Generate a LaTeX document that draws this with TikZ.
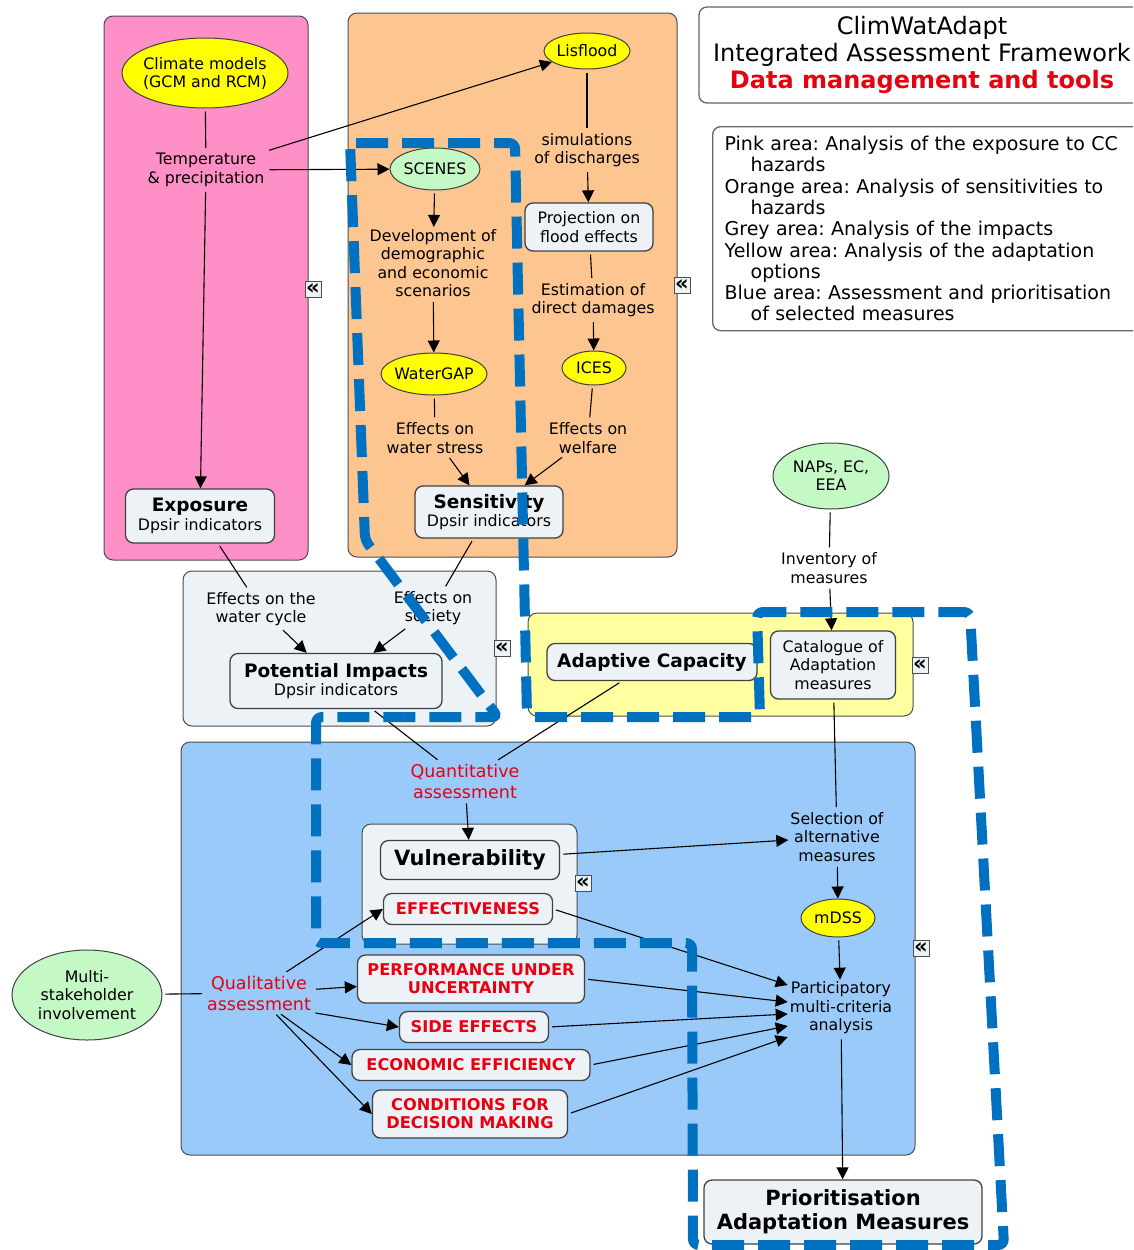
\documentclass[tikz,border=0pt]{standalone}
\usepackage{fontspec}
\setmainfont{DejaVu Sans}
\usetikzlibrary{shapes.geometric,arrows.meta}

\definecolor{pinkarea}{RGB}{255,143,199}
\definecolor{orangearea}{RGB}{253,198,145}
\definecolor{greyarea}{RGB}{236,242,245}
\definecolor{yellowarea}{RGB}{255,255,160}
\definecolor{bluearea}{RGB}{153,202,250}
\definecolor{boxfill}{RGB}{236,242,246}
\definecolor{ovalyellow}{RGB}{255,255,0}
\definecolor{ovalgreen}{RGB}{196,248,196}
\definecolor{cmred}{RGB}{232,0,16}
\definecolor{dashblue}{RGB}{0,112,192}

\newcommand{\fsn}{\fontsize{15.8}{18.5}\selectfont}
\newcommand{\fsh}{\fontsize{18.5}{20}\selectfont\bfseries}
\newcommand{\fsv}{\fontsize{21}{24}\selectfont\bfseries}
\newcommand{\fsq}{\fontsize{17.5}{21}\selectfont}
\newcommand{\fsc}{\fontsize{16.2}{18}\selectfont\bfseries}
\newcommand{\ovaltext}[1]{\makebox[0pt]{\raisebox{-2pt}[\height][\depth]{\begin{tabular}{@{}c@{}}#1\end{tabular}}}}
\frenchspacing

\begin{document}
\begin{tikzpicture}[x=1pt,y=-1pt]
  \tikzstyle{area}=[draw=black!70,line width=1pt,rounded corners=9pt]
  \tikzstyle{box}=[rectangle,draw=black!75,line width=1.3pt,rounded corners=8pt,fill=boxfill,align=center,inner sep=2pt,font=\fsn]
  \tikzstyle{redbox}=[box,font=\fsc,text=cmred]
  \tikzstyle{oval}=[ellipse,draw=black!75,line width=1pt,inner sep=0pt,font=\fsn]
  \tikzstyle{txt}=[align=center,inner sep=2pt,yshift=-2pt,font=\fsn]
  \tikzstyle{redtxt}=[align=center,inner sep=2pt,yshift=-2pt,font=\fsq,text=cmred]
  \tikzstyle{marker}=[draw=black!70,fill=boxfill,line width=0.8pt,minimum size=16pt,inner sep=0pt,font=\fontsize{21}{21}\selectfont\bfseries]
  \tikzstyle{line}=[draw,line width=1.1pt,shorten <=3pt,-{Triangle[length=12pt,width=12pt]}]
  \tikzstyle{link}=[draw,line width=1.1pt,shorten <=3pt,shorten >=3pt]
  \useasboundingbox (0,0) rectangle (1133,1250);
  \clip (0,0) rectangle (1133,1250);
  % areas
  \draw[area,fill=pinkarea] (104,16) rectangle (308,560);
  \draw[area,fill=orangearea] (348,13) rectangle (677,557);
  \draw[area,fill=greyarea] (183,571) rectangle (496,726);
  \draw[area,fill=yellowarea] (528,613) rectangle (913,716);
  \draw[area,fill=bluearea] (181,742) rectangle (915,1155);
  \draw[area,fill=boxfill] (362,824) rectangle (577,944);
  % headers
  \node[box,fill=white,draw=black!60,font=\fontsize{24}{27}\selectfont,minimum width=446pt,minimum height=96pt] (title) at (922,55)
    {ClimWatAdapt\\Integrated Assessment Framework\\{\color{cmred}\bfseries Data management and tools}};
  \node[box,fill=white,draw=black!60,anchor=north west,align=left,text width=420pt,inner xsep=12pt,minimum height=204pt,font=\fontsize{19}{21.3}\selectfont] (legend) at (712,126)
    {Pink area: Analysis of the exposure to CC\\\hspace*{26pt}hazards\\Orange area: Analysis of sensitivities to\\\hspace*{26pt}hazards\\Grey area: Analysis of the impacts\\Yellow area: Analysis of the adaptation\\\hspace*{26pt}options\\Blue area: Assessment and prioritisation\\\hspace*{26pt}of selected measures};
  % exposure
  \node[oval,fill=ovalyellow,minimum width=166pt,minimum height=70pt] (climate) at (205,73) {\ovaltext{Climate models\\(GCM and RCM)}};
  \node[txt] (temp) at (206,168) {Temperature\\\& precipitation};
  \node[box,minimum width=149pt,minimum height=54pt] (exposure) at (200,516) {{\fsh Exposure}\\Dpsir indicators};
  % sensitivity
  \node[oval,fill=ovalyellow,minimum width=86pt,minimum height=36pt] (lisflood) at (587,51) {\ovaltext{Lisflood}};
  \node[oval,fill=ovalgreen,minimum width=90pt,minimum height=42pt] (scenes) at (435,169) {\ovaltext{SCENES}};
  \node[txt] (devel) at (433,261) {Development of\\demographic\\and economic\\scenarios};
  \node[oval,fill=ovalyellow,minimum width=106pt,minimum height=42pt] (watergap) at (434,374) {\ovaltext{WaterGAP}};
  \node[txt] (wstress) at (435,436) {Effects on\\water stress};
  \node[txt] (simul) at (587,148) {simulations\\of discharges};
  \node[box,minimum width=128pt,minimum height=48pt] (projection) at (589,227) {Projection on\\flood effects};
  \node[txt] (estim) at (593,298) {Estimation of\\direct damages};
  \node[oval,fill=ovalyellow,minimum width=64pt,minimum height=34pt] (ices) at (594,368) {\ovaltext{ICES}};
  \node[txt] (welfare) at (588,436) {Effects on\\welfare};
  \node[box,minimum width=148pt,minimum height=52pt] (sensitivity) at (489,512) {{\fsh Sensitivity}\\Dpsir indicators};
  % impacts
  \node[txt] (wcycle) at (261,607) {Effects on the\\water cycle};
  \node[txt] (society) at (433,606) {Effects on\\society};
  \node[box,minimum width=212pt,minimum height=55pt] (pimpacts) at (336,681) {{\fsh Potential Impacts}\\Dpsir indicators};
  % adaptation
  \node[oval,fill=ovalgreen,minimum width=116pt,minimum height=66pt] (naps) at (831,476) {\ovaltext{NAPs, EC,\\EEA}};
  \node[txt] (inventory) at (829,566) {Inventory of\\measures};
  \node[box,font=\fsh,minimum width=210pt,minimum height=37pt] (adaptive) at (652,662) {Adaptive Capacity};
  \node[box,minimum width=125pt,minimum height=68pt] (catalogue) at (833,665) {Catalogue of\\Adaptation\\measures};
  % assessment
  \node[redtxt] (quanti) at (465,779) {Quantitative\\assessment};
  \node[box,font=\fsv,minimum width=179pt,minimum height=39pt] (vulner) at (470,860) {Vulnerability};
  \node[redbox,minimum width=169pt,minimum height=31pt] (effect) at (468,909) {EFFECTIVENESS};
  \node[txt] (selection) at (837,835) {Selection of\\alternative\\measures};
  \node[oval,fill=ovalyellow,minimum width=74pt,minimum height=38pt] (mdss) at (838,918) {\ovaltext{mDSS}};
  \node[txt] (particip) at (841,1006) {Participatory\\multi-criteria\\analysis};
  \node[oval,fill=ovalgreen,minimum width=150pt,minimum height=90pt] (multi) at (87,995) {\ovaltext{Multi-\\stakeholder\\involvement}};
  \node[redtxt] (quali) at (259,991) {Qualitative\\assessment};
  \node[redbox,minimum width=227pt,minimum height=48pt] (perf) at (471,979) {PERFORMANCE UNDER\\UNCERTAINTY};
  \node[redbox,minimum width=149pt,minimum height=31pt] (side) at (474,1027) {SIDE EFFECTS};
  \node[redbox,minimum width=238pt,minimum height=31pt] (econ) at (471,1065) {ECONOMIC EFFICIENCY};
  \node[redbox,minimum width=195pt,minimum height=48pt] (cond) at (470,1114) {CONDITIONS FOR\\DECISION MAKING};
  \node[box,font=\fsv,minimum width=278pt,minimum height=64pt] (prior) at (843,1212) {Prioritisation\\Adaptation Measures};
  % collapse markers
  \node[marker] (m1) at (313,289) {«};
  \node[marker] (m2) at (682,285) {«};
  \node[marker] (m3) at (502,648) {«};
  \node[marker] (m4) at (920,665) {«};
  \node[marker] (m5) at (583,883) {«};
  \node[marker] (m6) at (921,948) {«};
  % connectors
  \draw[link] (climate) -- (temp);
  \draw[line] (temp) -- (exposure);
  \draw[line] (temp) -- (lisflood);
  \draw[line] (temp) -- (scenes);
  \draw[line] (scenes) -- (devel);
  \draw[line] (devel) -- (watergap);
  \draw[link] (watergap) -- (wstress);
  \draw[line] (wstress) -- (sensitivity);
  \draw[link] (lisflood) -- (simul);
  \draw[line] (simul) -- (projection);
  \draw[link] (projection) -- (estim);
  \draw[line] (estim) -- (ices);
  \draw[link] (ices) -- (welfare);
  \draw[line] (welfare) -- (sensitivity);
  \draw[link] (exposure) -- (wcycle);
  \draw[line] (wcycle) -- (pimpacts);
  \draw[link] (sensitivity) -- (society);
  \draw[line] (society) -- (pimpacts);
  \draw[link] (pimpacts) -- (quanti);
  \draw[link] (adaptive) -- (quanti);
  \draw[line] (quanti) -- (vulner);
  \draw[line] (vulner) -- (selection);
  \draw[link] (naps) -- (inventory);
  \draw[line] (inventory) -- (catalogue);
  \draw[link] (catalogue) -- (selection);
  \draw[line] (selection) -- (mdss);
  \draw[line] (mdss) -- (particip);
  \draw[line] (particip) -- (prior);
  \draw[link] (multi) -- (quali);
  \draw[line] (quali.38) -- (effect.west);
  \draw[line] (quali) -- (perf);
  \draw[line] (quali.-20) -- (side.west);
  \draw[line] (quali.-45) -- (econ.west);
  \draw[line] (quali.-52) -- (cond.west);
  \draw[line] (effect.east) -- ([yshift=23pt]particip.west);
  \draw[line] (perf.east) -- ([yshift=6pt]particip.west);
  \draw[line] (side.east) -- ([yshift=-6pt]particip.west);
  \draw[line] (econ.east) -- ([yshift=-18pt]particip.west);
  \draw[line] (cond.east) -- ([yshift=-29pt]particip.west);
  % focus outline
  \draw[dashblue,line width=10pt,dash pattern=on 32pt off 14pt,rounded corners=6pt]
    (350,143) -- (515,143) -- (527,717) -- (760,717) -- (757,612) -- (970,612)
    -- (1004,1245) -- (693,1245) -- (692,943) -- (316,943) -- (316,717) -- (498,717)
    -- (365,540) -- cycle;
\end{tikzpicture}
\end{document}
